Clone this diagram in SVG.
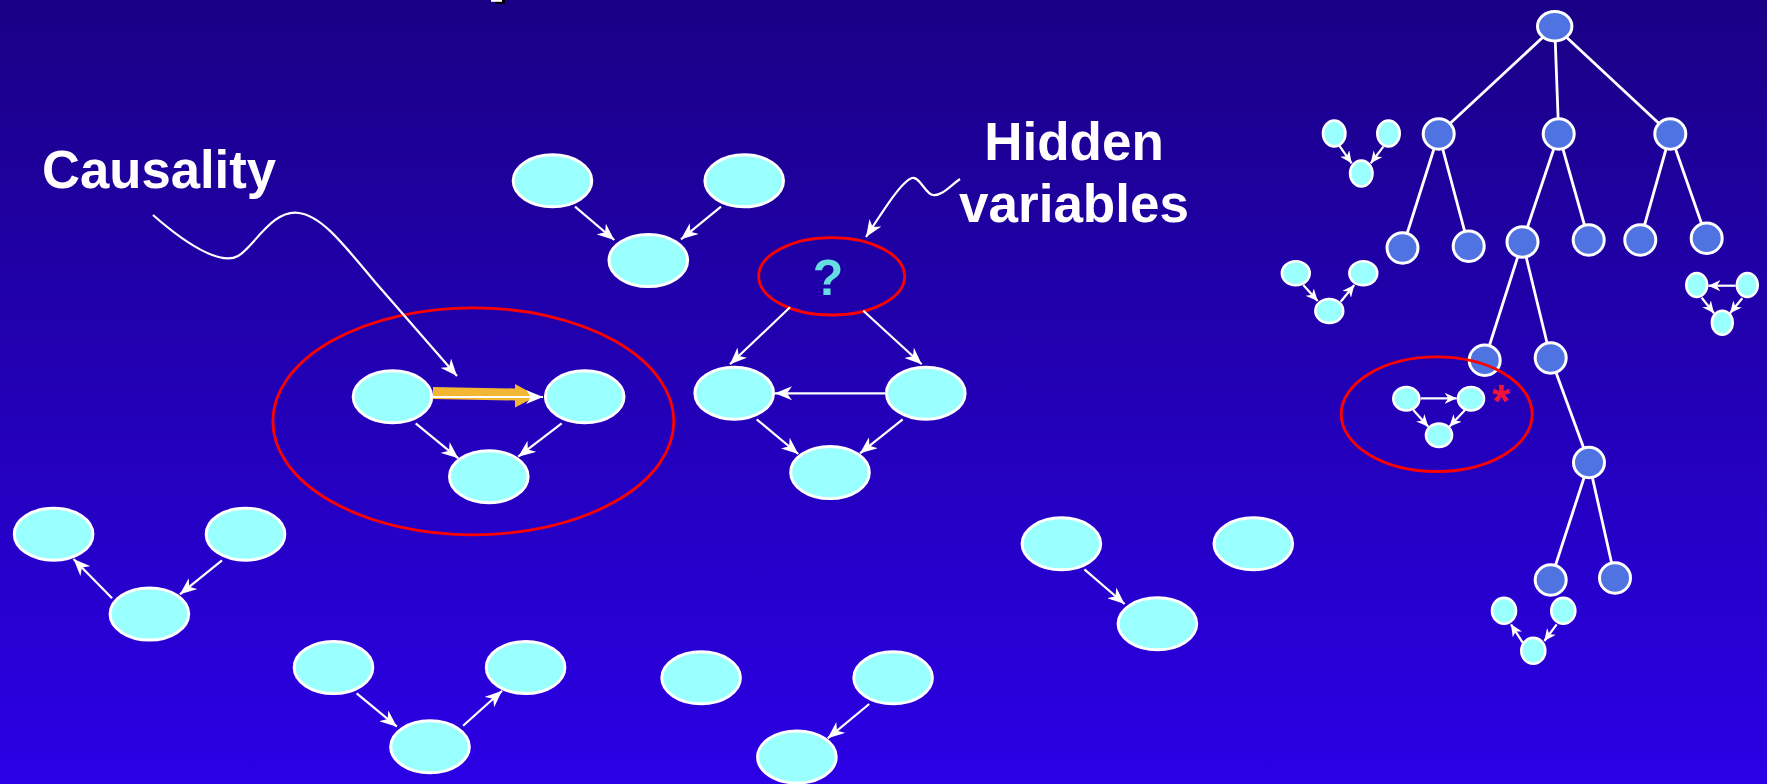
<svg xmlns="http://www.w3.org/2000/svg" width="1767" height="784" viewBox="0 0 1767 784">
  <defs>
    <linearGradient id="bg" x1="0" y1="0" x2="0" y2="1">
      <stop offset="0" stop-color="#1A0085"/>
      <stop offset="1" stop-color="#2B00E6"/>
    </linearGradient>
    <marker id="head" viewBox="-17 -7 18 14" refX="0" refY="0" markerWidth="18" markerHeight="14" orient="auto" markerUnits="userSpaceOnUse">
      <path d="M0,0 L-17,-7 L-12,0 L-17,7 Z" fill="#fff"/>
    </marker>
    <marker id="headS" viewBox="-12 -5.5 13 11" refX="0" refY="0" markerWidth="13" markerHeight="11" orient="auto" markerUnits="userSpaceOnUse">
      <path d="M0,0 L-12,-5.5 L-8.5,0 L-12,5.5 Z" fill="#fff"/>
    </marker>
    <style>
      .node { fill: #99FFFF; stroke: #fff; stroke-width: 3; }
      .tnode { fill: #4F73E0; stroke: #fff; stroke-width: 3; }
      .snode { fill: #99FFFF; stroke: #fff; stroke-width: 2.6; }
      .edge { fill: none; stroke: #fff; stroke-width: 2.2; marker-end: url(#head); }
      .sedge { fill: none; stroke: #fff; stroke-width: 2.2; marker-end: url(#headS); }
      .tree { stroke: #fff; stroke-width: 2.8; fill: none; }
      .ring { fill: none; stroke: #FF0000; stroke-width: 2.8; }
      .label { font-family: "Liberation Sans", Arial, sans-serif; font-weight: bold; font-size: 53px; fill: #fff; }
    </style>
  </defs>

  <rect width="1767" height="784" fill="url(#bg)"/>
  <!-- stray title fragment at the top edge -->
  <rect x="495" y="0" width="10" height="4" fill="#000"/>
  <rect x="491" y="0" width="11" height="1.8" fill="#fff"/>

  <!-- labels -->
  <text class="label" x="42" y="188" textLength="234" lengthAdjust="spacingAndGlyphs">Causality</text>
  <text class="label" x="1074" y="160" text-anchor="middle">Hidden</text>
  <text class="label" x="1074" y="222" text-anchor="middle">variables</text>

  <!-- tree edges -->
  <g id="tree-edges" class="tree">
    <line x1="1554.7" y1="26.2" x2="1438.7" y2="134"/>
    <line x1="1554.7" y1="26.2" x2="1558.7" y2="134"/>
    <line x1="1554.7" y1="26.2" x2="1670.3" y2="134"/>
    <line x1="1438.7" y1="134" x2="1402.5" y2="248"/>
    <line x1="1438.7" y1="134" x2="1468.7" y2="246.3"/>
    <line x1="1558.7" y1="134" x2="1522.5" y2="242"/>
    <line x1="1558.7" y1="134" x2="1588.7" y2="240"/>
    <line x1="1670.3" y1="134" x2="1640.3" y2="240"/>
    <line x1="1670.3" y1="134" x2="1706.7" y2="238.3"/>
    <line x1="1522.5" y1="242" x2="1484.7" y2="360.3"/>
    <line x1="1522.5" y1="242" x2="1550.7" y2="358"/>
    <line x1="1550.7" y1="358" x2="1589" y2="462.5"/>
    <line x1="1589" y1="462.5" x2="1550.7" y2="580"/>
    <line x1="1589" y1="462.5" x2="1615" y2="578"/>
  </g>

  <!-- tree nodes -->
  <g id="tree-nodes">
    <ellipse id="t-root" class="tnode" cx="1554.7" cy="26.2" rx="17.2" ry="14.7"/>
    <ellipse id="t-1a" class="tnode" cx="1438.7" cy="134" rx="15.5" ry="15.2"/>
    <ellipse id="t-1b" class="tnode" cx="1558.7" cy="134" rx="15.5" ry="15.2"/>
    <ellipse id="t-1c" class="tnode" cx="1670.3" cy="134" rx="15.5" ry="15.2"/>
    <ellipse id="t-2a" class="tnode" cx="1402.5" cy="248" rx="15.5" ry="15.2"/>
    <ellipse id="t-2b" class="tnode" cx="1468.7" cy="246.3" rx="15.5" ry="15.2"/>
    <ellipse id="t-2c" class="tnode" cx="1522.5" cy="242" rx="15.5" ry="15.2"/>
    <ellipse id="t-2d" class="tnode" cx="1588.7" cy="240" rx="15.5" ry="15.2"/>
    <ellipse id="t-2e" class="tnode" cx="1640.3" cy="240" rx="15.5" ry="15.2"/>
    <ellipse id="t-2f" class="tnode" cx="1706.7" cy="238.3" rx="15.5" ry="15.2"/>
    <ellipse id="t-3a" class="tnode" cx="1484.7" cy="360.3" rx="15.5" ry="15.2"/>
    <ellipse id="t-3b" class="tnode" cx="1550.7" cy="358" rx="15.5" ry="15.2"/>
    <ellipse id="t-4a" class="tnode" cx="1589" cy="462.5" rx="15.5" ry="15.2"/>
    <ellipse id="t-5a" class="tnode" cx="1550.7" cy="580" rx="15.5" ry="15.2"/>
    <ellipse id="t-5b" class="tnode" cx="1615" cy="578" rx="15.5" ry="15.2"/>
  </g>

  <!-- highlight rings -->
  <g id="rings">
    <ellipse class="ring" cx="473.3" cy="421.3" rx="200.5" ry="113.5"/>
    <ellipse id="hidden" class="ring" cx="831.7" cy="276.3" rx="73" ry="38.7"/>
    <ellipse class="ring" cx="1436.7" cy="414.2" rx="95.5" ry="57.3"/>
  </g>
  <text x="828" y="295" text-anchor="middle" font-family="Liberation Sans, Arial, sans-serif" font-weight="bold" font-size="50" fill="#66DDE0">?</text>
  <text x="1501" y="417" text-anchor="middle" font-family="Liberation Sans, Arial, sans-serif" font-weight="bold" font-size="46" fill="#F0143C">*</text>

  <!-- highlighted causal link -->
  <path d="M433,387 L515,388.5 L515,384 L537,396 L515,407.5 L515,400.5 L433,399 Z" fill="#F3B633"/>

  <!-- connectors -->
  <g id="connectors">
    <path class="edge" d="M153,215 C195,252 224,264 238,256 C254,247 272,209 299,213 C322,216 344,245 375,282 L457,376"/>
    <path class="edge" d="M960,179 C950,186 942,196 933,195 C925,194 920,176 912,178 C902,181 885,208 866,237"/>

    <line class="edge" x1="575" y1="206.7" x2="614.3" y2="240"/>
    <line class="edge" x1="721" y1="206.7" x2="681" y2="239.3"/>
    <line class="edge" x1="433" y1="397" x2="543" y2="397"/>
    <line class="edge" x1="415.7" y1="423.3" x2="458.3" y2="458.3"/>
    <line class="edge" x1="561.7" y1="423.3" x2="518.3" y2="456.7"/>
    <line class="edge" x1="790" y1="307.3" x2="730" y2="364.3"/>
    <line class="edge" x1="863.3" y1="310.7" x2="921.7" y2="364.3"/>
    <line class="edge" x1="885" y1="393.3" x2="775" y2="393.3"/>
    <line class="edge" x1="756.7" y1="419.3" x2="798.3" y2="454"/>
    <line class="edge" x1="902.7" y1="419.3" x2="860" y2="453.3"/>
    <line class="edge" x1="112.1" y1="598.3" x2="73.5" y2="559"/>
    <line class="edge" x1="222" y1="560.3" x2="179.9" y2="594.3"/>
    <line class="edge" x1="356.7" y1="693.3" x2="396.9" y2="726.7"/>
    <line class="edge" x1="463.1" y1="725.7" x2="502.1" y2="690.7"/>
    <line class="edge" x1="1084.4" y1="569.3" x2="1124.6" y2="604"/>
    <line class="edge" x1="869.2" y1="704" x2="827.7" y2="738.3"/>

    <line class="sedge" x1="1339.3" y1="145.7" x2="1351.7" y2="163.3"/>
    <line class="sedge" x1="1383.3" y1="146.7" x2="1370.7" y2="163.3"/>
    <line class="sedge" x1="1303.3" y1="285" x2="1317.7" y2="301"/>
    <line class="sedge" x1="1340.7" y1="301.7" x2="1354.3" y2="285"/>
    <line class="sedge" x1="1735.7" y1="285.7" x2="1708.3" y2="285.7"/>
    <line class="sedge" x1="1701.7" y1="297.7" x2="1714" y2="313.3"/>
    <line class="sedge" x1="1742.3" y1="298.3" x2="1730" y2="313.3"/>
    <line class="sedge" x1="1420.7" y1="398.3" x2="1456.7" y2="398.3"/>
    <line class="sedge" x1="1413.3" y1="410" x2="1428.3" y2="426.7"/>
    <line class="sedge" x1="1465" y1="410" x2="1449.3" y2="426.7"/>
    <line class="sedge" x1="1522.7" y1="642.7" x2="1511" y2="624.3"/>
    <line class="sedge" x1="1556.7" y1="624.3" x2="1544.3" y2="641"/>
  </g>

  <!-- large nodes -->
  <g id="n-top-1"><ellipse class="node" cx="552.5" cy="180.8" rx="39.3" ry="26"/></g>
  <g id="n-top-2"><ellipse class="node" cx="744.2" cy="180.8" rx="39.3" ry="26"/></g>
  <g id="n-top-3"><ellipse class="node" cx="648.3" cy="260.5" rx="39.3" ry="26"/></g>
  <g id="n-cause-1"><ellipse class="node" cx="392.5" cy="396.8" rx="39.3" ry="26"/></g>
  <g id="n-cause-2"><ellipse class="node" cx="584.7" cy="396.8" rx="39.3" ry="26"/></g>
  <g id="n-cause-3"><ellipse class="node" cx="488.8" cy="476.7" rx="39.3" ry="26"/></g>
  <g id="n-hid-1"><ellipse class="node" cx="734.2" cy="393.2" rx="39.3" ry="26"/></g>
  <g id="n-hid-2"><ellipse class="node" cx="925.8" cy="393.2" rx="39.3" ry="26"/></g>
  <g id="n-hid-3"><ellipse class="node" cx="830" cy="472.5" rx="39.3" ry="26"/></g>
  <g id="n-left-1"><ellipse class="node" cx="53.6" cy="534.2" rx="39.3" ry="26"/></g>
  <g id="n-left-2"><ellipse class="node" cx="245.5" cy="534.2" rx="39.3" ry="26"/></g>
  <g id="n-left-3"><ellipse class="node" cx="149.4" cy="614" rx="39.3" ry="26"/></g>
  <g id="n-bot-1"><ellipse class="node" cx="333.5" cy="667.5" rx="39.3" ry="26"/></g>
  <g id="n-bot-2"><ellipse class="node" cx="525.6" cy="667.5" rx="39.3" ry="26"/></g>
  <g id="n-bot-3"><ellipse class="node" cx="430" cy="746.8" rx="39.3" ry="26"/></g>
  <g id="n-mid-1"><ellipse class="node" cx="701.1" cy="677.8" rx="39.3" ry="26"/></g>
  <g id="n-mid-2"><ellipse class="node" cx="893.1" cy="677.8" rx="39.3" ry="26"/></g>
  <g id="n-mid-3"><ellipse class="node" cx="796.9" cy="757" rx="39.3" ry="26"/></g>
  <g id="n-right-1"><ellipse class="node" cx="1061.4" cy="543.8" rx="39.3" ry="26"/></g>
  <g id="n-right-2"><ellipse class="node" cx="1253.3" cy="543.8" rx="39.3" ry="26"/></g>
  <g id="n-right-3"><ellipse class="node" cx="1157.4" cy="623.8" rx="39.3" ry="26"/></g>

  <!-- small nodes -->
  <g id="s-a1"><ellipse class="snode" cx="1334.2" cy="133.5" rx="11.2" ry="12.9"/></g>
  <g id="s-a2"><ellipse class="snode" cx="1388.5" cy="133.5" rx="11.2" ry="12.9"/></g>
  <g id="s-a3"><ellipse class="snode" cx="1361.3" cy="173.5" rx="11.2" ry="12.9"/></g>
  <g id="s-b1"><ellipse class="snode" cx="1295.8" cy="273.3" rx="13.9" ry="12"/></g>
  <g id="s-b2"><ellipse class="snode" cx="1363.3" cy="273.3" rx="13.9" ry="12"/></g>
  <g id="s-b3"><ellipse class="snode" cx="1329.3" cy="311" rx="13.9" ry="12"/></g>
  <g id="s-c1"><ellipse class="snode" cx="1696.7" cy="285" rx="10.4" ry="12"/></g>
  <g id="s-c2"><ellipse class="snode" cx="1747.3" cy="285" rx="10.4" ry="12"/></g>
  <g id="s-c3"><ellipse class="snode" cx="1722.3" cy="322.7" rx="10.4" ry="12"/></g>
  <g id="s-d1"><ellipse class="snode" cx="1406.3" cy="398.7" rx="13" ry="11.7"/></g>
  <g id="s-d2"><ellipse class="snode" cx="1471" cy="398.7" rx="13" ry="11.7"/></g>
  <g id="s-d3"><ellipse class="snode" cx="1439" cy="435.3" rx="13" ry="11.7"/></g>
  <g id="s-e1"><ellipse class="snode" cx="1504" cy="610.8" rx="12" ry="12.9"/></g>
  <g id="s-e2"><ellipse class="snode" cx="1563.3" cy="610.8" rx="12" ry="12.9"/></g>
  <g id="s-e3"><ellipse class="snode" cx="1533.3" cy="650.8" rx="12" ry="12.9"/></g>
</svg>
